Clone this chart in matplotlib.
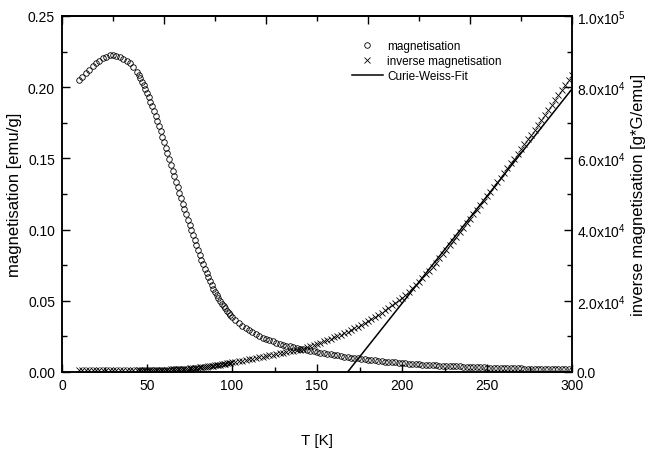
import matplotlib
matplotlib.use("Agg")
import matplotlib.pyplot as plt
from matplotlib.ticker import MultipleLocator

plt.rcParams.update({
    "font.family": ["Liberation Sans", "DejaVu Sans"],
    "font.size": 10,
    "mathtext.fontset": "custom",
    "mathtext.rm": "Liberation Sans",
    "mathtext.default": "regular",
})

# temperature grid of the measurement [K]
temp = [10, 12, 14, 16, 18, 20, 22, 24, 26, 28, 30, 32, 34, 36, 38, 40, 42,
        44, 45, 46, 47, 48, 49, 50, 51, 52, 53, 54, 55, 56, 57, 58, 59, 60,
        61, 62, 63, 64, 65, 66, 67, 68, 69, 70, 71, 72, 73, 74, 75, 76, 77,
        78, 79, 80, 81, 82, 83, 84, 85, 86, 87, 88, 89, 90, 91, 92, 93, 94,
        95, 96, 97, 98, 99, 100,
        102, 104, 106, 108, 110, 112, 114, 116, 118, 120,
        122, 124, 126, 128, 130, 132, 134, 136, 138, 140,
        142, 144, 146, 148, 150, 152, 154, 156, 158, 160,
        162, 164, 166, 168, 170, 172, 174, 176, 178, 180,
        182, 184, 186, 188, 190, 192, 194, 196, 198, 200,
        202, 204, 206, 208, 210, 212, 214, 216, 218, 220,
        222, 224, 226, 228, 230, 232, 234, 236, 238, 240,
        242, 244, 246, 248, 250, 252, 254, 256, 258, 260,
        262, 264, 266, 268, 270, 272, 274, 276, 278, 280,
        282, 284, 286, 288, 290, 292, 294, 296, 298, 300]

# magnetisation [emu/g]
magn = [0.2050, 0.2075, 0.2100, 0.2124, 0.2147, 0.2168, 0.2187, 0.2203, 0.2215,
        0.2223, 0.2225, 0.2221, 0.2212, 0.2200, 0.2186, 0.2168, 0.2142,
        0.2110, 0.2088, 0.2065, 0.2040, 0.2014, 0.1987, 0.1960, 0.1930, 0.1899,
        0.1867, 0.1835, 0.1800, 0.1764, 0.1727, 0.1690, 0.1652, 0.1613,
        0.1574, 0.1535, 0.1495, 0.1455, 0.1415, 0.1375, 0.1336, 0.1297,
        0.1259, 0.1220, 0.1182, 0.1145, 0.1107, 0.1070, 0.1034, 0.0997,
        0.0961, 0.0925, 0.0891, 0.0857, 0.0823, 0.0790, 0.0758, 0.0726,
        0.0695, 0.0665, 0.0638, 0.0611, 0.0585, 0.0560, 0.0539, 0.0518,
        0.0498, 0.0478, 0.0462, 0.0446, 0.0430, 0.0415, 0.0402, 0.0389,
        0.0365, 0.0345, 0.0325, 0.0308, 0.0292, 0.0278, 0.0265, 0.0253, 0.0242, 0.0232,
        0.0223, 0.0215, 0.0207, 0.0199, 0.0192, 0.0186, 0.0180, 0.0175, 0.0170, 0.0165,
        0.0160, 0.0155, 0.0150, 0.0145, 0.0141, 0.0136, 0.0132, 0.0128, 0.0124, 0.0120,
        0.0116, 0.0112, 0.0108, 0.0105, 0.0101, 0.0098, 0.0095, 0.0092, 0.0089, 0.0086,
        0.0083, 0.0081, 0.0078, 0.0076, 0.0073, 0.0071, 0.0069, 0.0067, 0.0065, 0.0063,
        0.0061, 0.0059, 0.0057, 0.0056, 0.0054, 0.0052, 0.0051, 0.0049, 0.0048, 0.0047,
        0.0045, 0.0044, 0.0043, 0.0042, 0.0041, 0.0040, 0.0039, 0.0038, 0.0037, 0.0036,
        0.0035, 0.0034, 0.0033, 0.0032, 0.0031, 0.0030, 0.0030, 0.0029, 0.0028, 0.0028,
        0.0027, 0.0026, 0.0026, 0.0025, 0.0025, 0.0024, 0.0023, 0.0023, 0.0022, 0.0022,
        0.0021, 0.0021, 0.0020, 0.0020, 0.0019, 0.0019, 0.0018, 0.0018, 0.0018, 0.0017]

# inverse magnetisation [g*G/emu]
inv_magn = [505, 500, 495, 490, 485, 480, 475, 470, 470, 470, 465, 470, 470, 475,
            475, 480, 485,
            495, 500, 505, 510, 515, 525, 530, 540, 550, 555, 565, 580, 590, 600,
            615, 630, 645, 660, 680, 695, 715, 735, 755, 780, 800, 825, 850, 880,
            910, 940, 970, 1005, 1045, 1080, 1125, 1165, 1215, 1265, 1315, 1370,
            1430, 1495, 1565, 1630, 1700, 1780, 1855, 1930, 2010, 2090, 2175,
            2250, 2330, 2420, 2505, 2590, 2675,
            2850, 3010, 3200, 3380, 3560, 3740, 3920, 4110, 4300, 4480,
            4660, 4840, 5020, 5230, 5420, 5590, 5780, 5940, 6120, 6300,
            6600, 6900, 7220, 7560, 7920, 8280, 8620, 8970, 9330, 9700,
            10100, 10500, 10920, 11350, 11800, 12280, 12760, 13260, 13770, 14300,
            14880, 15460, 16060, 16670, 17300, 17990, 18680, 19400, 20140, 20900,
            21740, 22600, 23480, 24380, 25300, 26360, 27420, 28500, 29600, 30700,
            31910, 33130, 34350, 35570, 36800, 38040, 39280, 40520, 41760, 43000,
            44280, 45560, 46840, 48120, 49400, 50700, 52000, 53300, 54600, 55900,
            57240, 58580, 59920, 61260, 62600, 63960, 65320, 66680, 68040, 69400,
            70780, 72160, 73540, 74920, 76300, 77720, 79140, 80560, 81980, 83400]

# Curie-Weiss fit, end points
fit_temp = [168, 300]
fit_inv = [0, 79500]

left_ticks = [0.00, 0.05, 0.10, 0.15, 0.20, 0.25]
right_ticks = [0, 20000, 40000, 60000, 80000, 100000]
right_labels = ["0.0", "2.0x10$^{4}$", "4.0x10$^{4}$", "6.0x10$^{4}$",
                "8.0x10$^{4}$", "1.0x10$^{5}$"]

fig = plt.figure(figsize=(6.46, 4.56), dpi=100)
ax = fig.add_axes([62 / 646, 83 / 456, 510 / 646, 356 / 456])
ax2 = ax.twinx()

l1, = ax.plot(temp, magn, ls="none", marker="o", ms=4, mfc="none",
              mec="black", mew=0.6, label="magnetisation")
l2, = ax2.plot(temp, inv_magn, ls="none", marker="x", ms=4,
               mec="black", mew=0.6, label="inverse magnetisation")
l3, = ax2.plot(fit_temp, fit_inv, color="black", lw=1.1, label="Curie-Weiss-Fit")

ax.set_xlim(0, 300)
ax.set_ylim(0, 0.25)
ax2.set_ylim(0, 100000)

ax.xaxis.set_major_locator(MultipleLocator(50))
ax.xaxis.set_minor_locator(MultipleLocator(25))
ax.set_yticks(left_ticks, [f"{v:.2f}" for v in left_ticks])
ax.yaxis.set_minor_locator(MultipleLocator(0.025))
ax2.set_yticks(right_ticks, right_labels)
ax2.yaxis.set_minor_locator(MultipleLocator(10000))

for a in (ax, ax2):
    for s in a.spines.values():
        s.set_linewidth(1.1)
ax.tick_params(which="both", direction="in", width=1.0, top=False, right=False)
ax.tick_params(which="major", length=6)
ax.tick_params(which="minor", length=3.5)
ax.tick_params(axis="y", pad=5)
ax.tick_params(axis="x", pad=4)
ax2.tick_params(which="both", direction="in", width=1.0, pad=3.5)
ax2.tick_params(which="major", length=6)
ax2.tick_params(which="minor", length=3.5)

# top axis carries its own tick spacing
top = ax.secondary_xaxis("top")
top.xaxis.set_major_locator(MultipleLocator(60))
top.xaxis.set_minor_locator(MultipleLocator(30))
top.tick_params(which="both", direction="in", width=1.0, labeltop=False)
top.tick_params(which="major", length=6)
top.tick_params(which="minor", length=3.5)
top.spines["top"].set_linewidth(1.1)

ax.set_xlabel("T [K]", fontsize=11, labelpad=30)
ax.set_ylabel("magnetisation [emu/g]", fontsize=12, labelpad=4)
ax2.set_ylabel("inverse magnetisation [g*G/emu]", fontsize=12, labelpad=4)

ax.legend(handles=[l1, l2, l3], loc="upper left", frameon=False,
          bbox_to_anchor=(352 / 646, 1 - 41 / 456), bbox_transform=fig.transFigure,
          borderpad=0, borderaxespad=0, handlelength=2.6, handletextpad=0.4,
          labelspacing=0.24, fontsize=8.5)

fig.savefig("out.png", dpi=100)
